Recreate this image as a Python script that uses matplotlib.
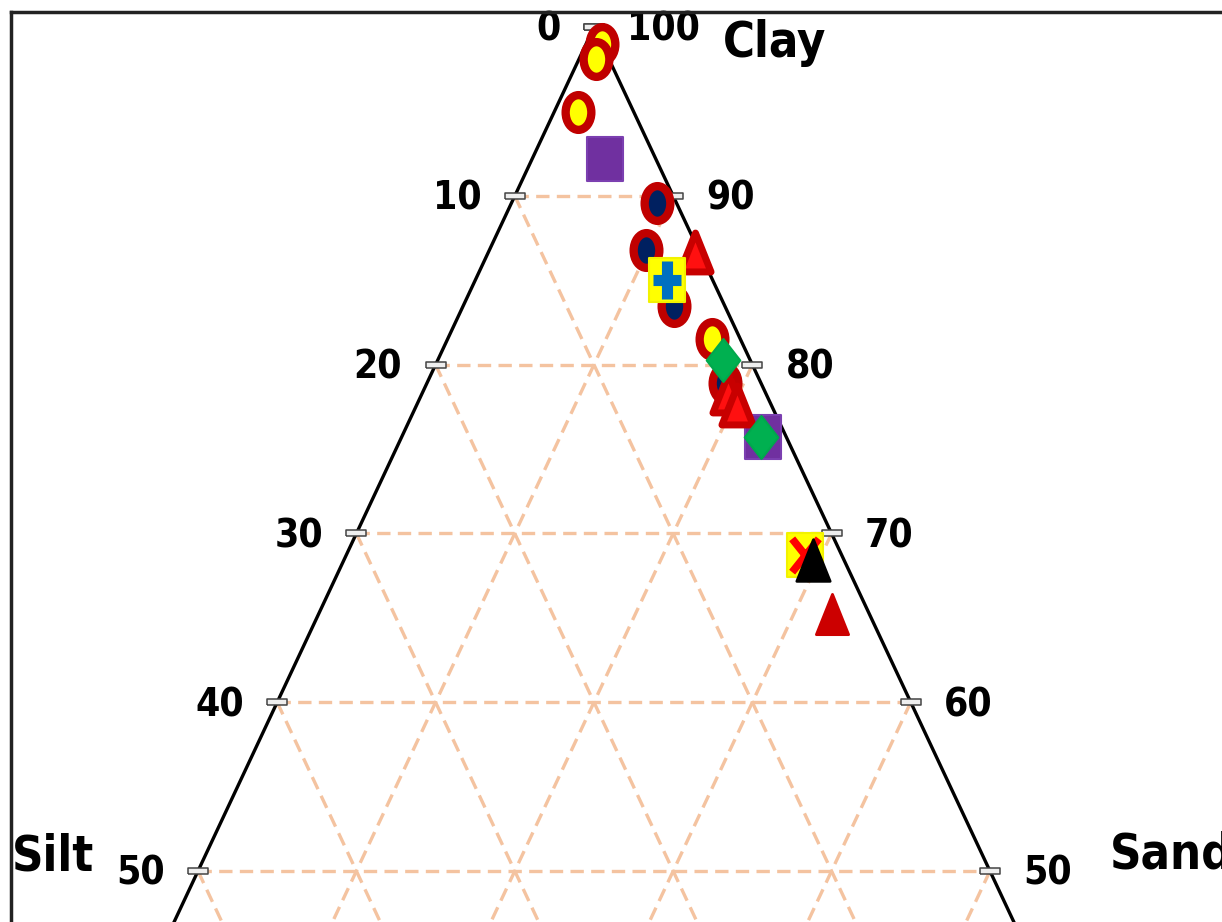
import os
import numpy as np
import matplotlib
matplotlib.use("Agg")
from matplotlib import pyplot as plt
from matplotlib import font_manager
from matplotlib.markers import MarkerStyle
from matplotlib.lines import Line2D
from matplotlib.transforms import Affine2D

# soil texture of the samples, in % (sand = 100 - clay - silt)
ring_yellow_clay = [99.0, 98.1, 95.0, 81.5]
ring_yellow_silt = [0.0, 0.8, 3.5, 1.8]
ring_navy_clay = [89.6, 86.8, 83.5, 78.9]
ring_navy_silt = [1.2, 3.3, 3.2, 2.3]
tri_red_clay = [86.7, 78.3, 77.6]
tri_red_silt = [0.3, 2.4, 2.2]
tri_dark_clay = [65.2]
tri_dark_silt = [2.4]
square_purple_clay = [92.2, 75.7]
square_purple_silt = [3.2, 1.5]
diamond_green_clay = [80.3, 75.7]
diamond_green_silt = [1.7, 1.6]
plus_clay = [85.0]
plus_silt = [2.9]
cross_clay = [68.7]
cross_silt = [2.3]
tri_black_clay = [68.4]
tri_black_silt = [2.0]

grid_values = [10, 20, 30, 40, 50, 60, 70, 80, 90]
tick_values = [0, 10, 20, 30, 40, 50]

W, H = 1222, 922


def find_file(names):
    files = {os.path.basename(f.fname): f.fname for f in font_manager.fontManager.ttflist}
    for n in names:
        if n in files:
            return files[n]
    return None


def to_xy(clay, silt):
    clay = np.asarray(clay, dtype=float)
    silt = np.asarray(silt, dtype=float)
    sand = 100 - clay - silt
    return (sand - silt) / 2.0, clay


def stretched(name, aspect, join="miter"):
    m = MarkerStyle(name)
    p = m.get_path().transformed(m.get_transform())
    p = p.transformed(Affine2D().scale(aspect, 1.0))
    return MarkerStyle(p, joinstyle=join)


# a narrow bold face if one is installed
bold_file = find_file(["LiberationSansNarrow-Bold.ttf", "NotoSans-CondensedBold.ttf",
                       "DejaVuSansCondensed-Bold.ttf"])
if bold_file:
    num_font = font_manager.FontProperties(fname=bold_file, size=28)
    name_font = font_manager.FontProperties(fname=bold_file, size=35)
else:
    num_font = font_manager.FontProperties(family="Liberation Sans", weight="bold", size=27)
    name_font = font_manager.FontProperties(family="Liberation Sans", weight="bold", size=34)

fig = plt.figure(figsize=(W / 100, H / 100), dpi=100)
ax = fig.add_axes([0, 0, 1, 1])
ax.set_xlim(-37.5, 39.65)
ax.set_ylim(46.98, 101.61)
ax.axis("off")

# dashed grid
gcol = "#f4c3a0"
dash = (0, (4, 2.2))
for k in grid_values:
    x, y = to_xy([k, k], [100 - k, 0])          # clay = k
    ax.plot(x, y, ls=dash, color=gcol, lw=2.4, zorder=1)
    x, y = to_xy([100 - k, 0], [0, 100 - k])    # sand = k
    ax.plot(x, y, ls=dash, color=gcol, lw=2.4, zorder=1)
    x, y = to_xy([100 - k, 0], [k, k])          # silt = k
    ax.plot(x, y, ls=dash, color=gcol, lw=2.4, zorder=1)

# triangle edges
x, y = to_xy([0, 100, 0], [100, 0, 0])
ax.plot(x, y, color="black", lw=2.4, zorder=2, solid_joinstyle="miter")

# ticks and labels
tick_mark = [(-1.5, -0.5), (1.5, -0.5), (1.5, 0.5), (-1.5, 0.5), (-1.5, -0.5)]
for v in tick_values:
    lx, ly = to_xy([100 - v], [v])
    rx, ry = to_xy([100 - v], [0])
    for px, py in [(lx, ly), (rx, ry)]:
        ax.plot(px, py, marker=tick_mark, ms=14, mfc="#eeeeee", mec="#444444",
                mew=1.1, ls="none", zorder=3)
    ax.annotate(str(v), (lx[0], ly[0]), xytext=(-24, -2), textcoords="offset points",
                ha="right", va="center", fontproperties=num_font, color="black")
    ax.annotate(str(100 - v), (rx[0], ry[0]), xytext=(24, -2), textcoords="offset points",
                ha="left", va="center", fontproperties=num_font, color="black")

# samples
ring = stretched("o", 0.74)
sq = stretched("s", 0.82, "round")
dia = stretched("D", 0.78, "round")
tri = stretched("^", 0.80, "round")
plus = stretched("+", 0.75)
cross = stretched("x", 0.80)

x, y = to_xy(ring_yellow_clay, ring_yellow_silt)
ax.plot(x, y, marker=ring, ms=25, mfc="#ffff00", mec="#c00000", mew=6, ls="none", zorder=5)
x, y = to_xy(ring_navy_clay, ring_navy_silt)
ax.plot(x, y, marker=ring, ms=25, mfc="#002060", mec="#c00000", mew=6, ls="none", zorder=5)
x, y = to_xy(square_purple_clay, square_purple_silt)
ax.plot(x, y, marker=sq, ms=31, mfc="#7030a0", mec="#7b3fb0", mew=1.5, ls="none", zorder=5)
x, y = to_xy(tri_red_clay, tri_red_silt)
ax.plot(x, y, marker=tri, ms=28, mfc="#ff1010", mec="#c80000", mew=5, ls="none", zorder=6)
x, y = to_xy(tri_dark_clay, tri_dark_silt)
ax.plot(x, y, marker=tri, ms=29, mfc="#cc0000", mec="#cc0000", mew=2, ls="none", zorder=6)
x, y = to_xy(plus_clay, plus_silt)
ax.plot(x, y, marker=sq, ms=31, mfc="#ffff00", mec="#f2f200", mew=1.5, ls="none", zorder=7)
ax.plot(x, y, marker=plus, ms=27, mfc="none", mec="#0070c0", mew=8, ls="none", zorder=8)
x, y = to_xy(diamond_green_clay, diamond_green_silt)
ax.plot(x, y, marker=dia, ms=31, mfc="#00b050", mec="#00a84c", mew=1.5, ls="none", zorder=7)
x, y = to_xy(cross_clay, cross_silt)
ax.plot(x, y, marker=sq, ms=32, mfc="#ffff00", mec="#f2f200", mew=1.5, ls="none", zorder=7)
ax.plot(x, y, marker=cross, ms=24, mfc="none", mec="#ff0000", mew=5.5, ls="none", zorder=8)
x, y = to_xy(tri_black_clay, tri_black_silt)
ax.plot(x, y, marker=tri, ms=30, mfc="black", mec="black", mew=2, ls="none", zorder=9)

# axis names
fig.text(723 / W, 1 - 57 / H, "Clay", fontproperties=name_font, ha="left", va="baseline")
fig.text(12 / W, 1 - 870 / H, "Silt", fontproperties=name_font, ha="left", va="baseline")
fig.text(1110 / W, 1 - 868 / H, "Sand", fontproperties=name_font, ha="left", va="baseline")

# frame (top and left edges visible in the crop)
fig.add_artist(Line2D([11 / W, 1], [1 - 12 / H, 1 - 12 / H], color="#222222", lw=2.5))
fig.add_artist(Line2D([11 / W, 11 / W], [0, 1 - 12 / H], color="#222222", lw=2.5))

fig.savefig("out.png", dpi=100)
